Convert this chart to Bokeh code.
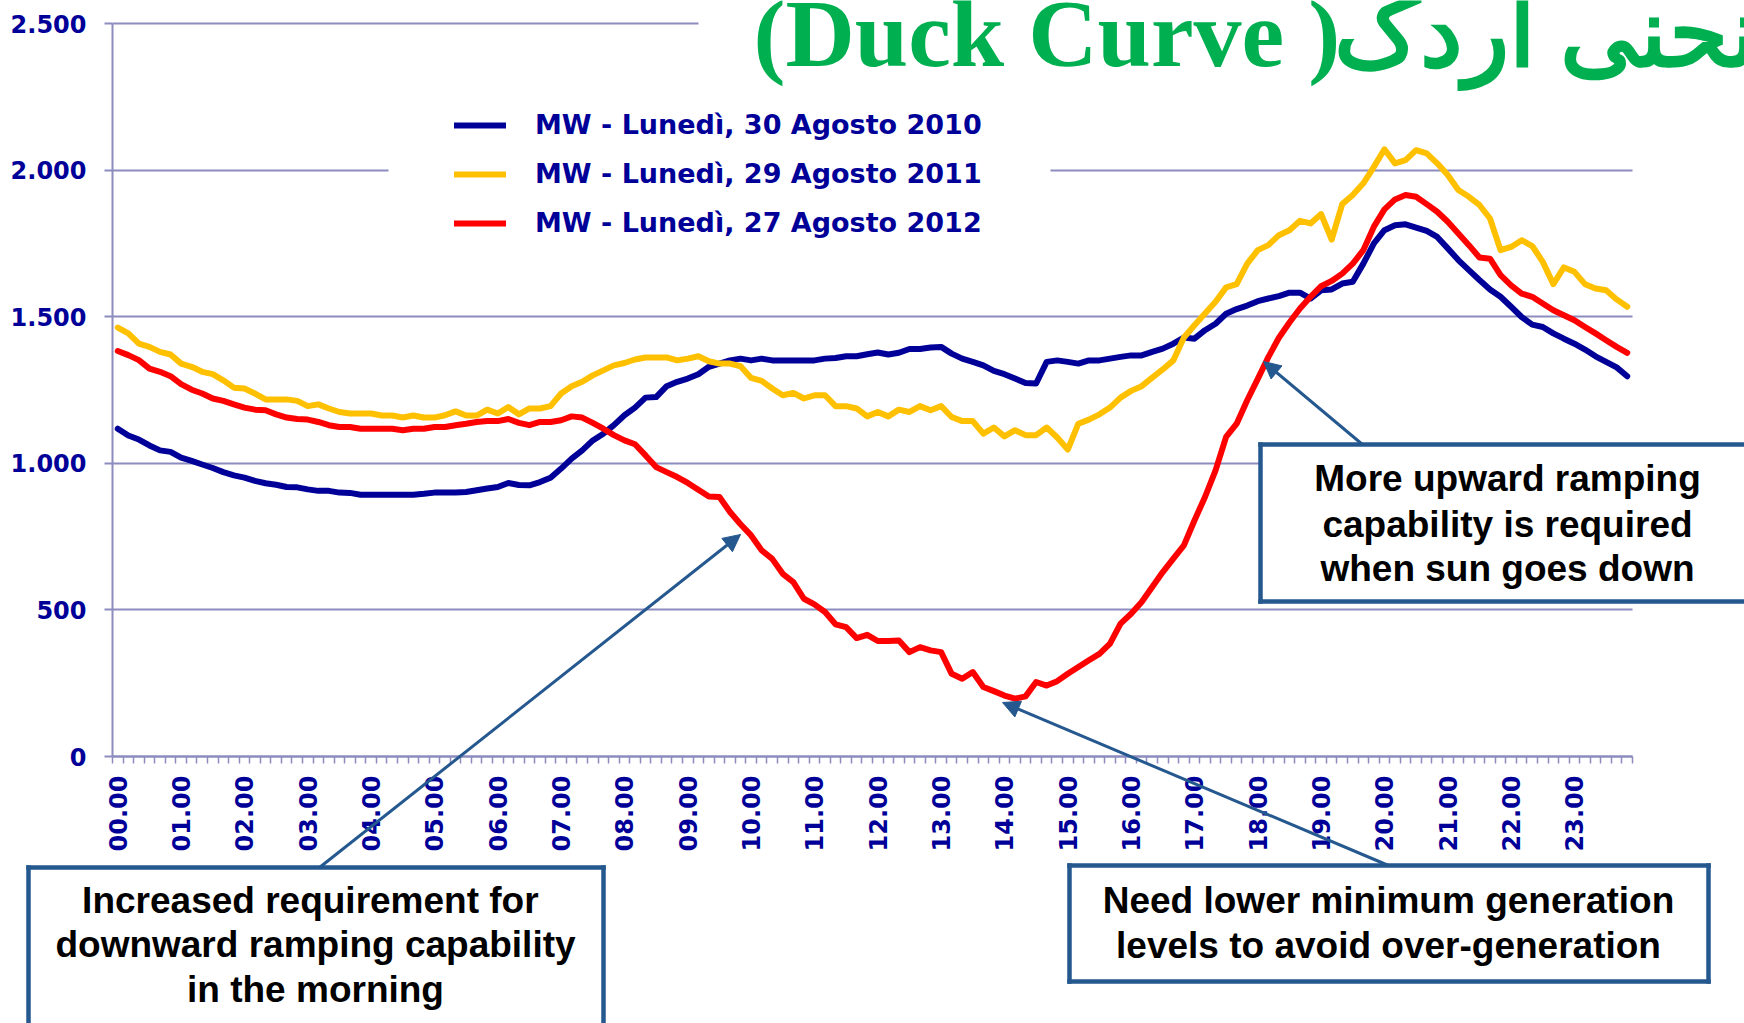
import math
from bokeh.plotting import figure
from bokeh.models import (Range1d, FixedTicker, BoxAnnotation, Label, Arrow,
                          NormalHead, Legend, LegendItem, ColumnDataSource)
from bokeh.embed import file_html
from bokeh.resources import INLINE

# ---------------- data (10-minute steps, 00.00 -> 23.50) ----------------
hour_labels = ["00.00", "01.00", "02.00", "03.00", "04.00", "05.00", "06.00", "07.00",
               "08.00", "09.00", "10.00", "11.00", "12.00", "13.00", "14.00", "15.00",
               "16.00", "17.00", "18.00", "19.00", "20.00", "21.00", "22.00", "23.00"]
steps_per_hour = 6

series_labels = ["MW - Lunedì, 30 Agosto 2010",
                 "MW - Lunedì, 29 Agosto 2011",
                 "MW - Lunedì, 27 Agosto 2012"]

mw_2010 = [1118, 1095, 1081, 1061, 1044, 1039, 1019, 1008, 996, 984,
           970, 959, 951, 940, 932, 927, 919, 918, 911, 906,
           906, 900, 899, 893, 893, 893, 893, 893, 893, 896,
           900, 900, 900, 902, 908, 914, 919, 933, 926, 925,
           936, 951, 982, 1016, 1044, 1078, 1101, 1130, 1164, 1190,
           1224, 1226, 1263, 1278, 1289, 1304, 1329, 1340, 1351, 1357,
           1351, 1357, 1351, 1351, 1351, 1351, 1351, 1357, 1359, 1365,
           1365, 1372, 1378, 1371, 1377, 1390, 1390, 1395, 1397, 1374,
           1357, 1346, 1334, 1315, 1304, 1289, 1274, 1272, 1346, 1351,
           1346, 1340, 1351, 1351, 1357, 1363, 1368, 1368, 1380, 1391,
           1408, 1429, 1425, 1454, 1476, 1510, 1526, 1538, 1553, 1562,
           1570, 1582, 1582, 1562, 1590, 1593, 1613, 1619, 1681, 1750,
           1795, 1812, 1815, 1804, 1793, 1772, 1733, 1693, 1659, 1625,
           1593, 1568, 1534, 1499, 1473, 1465, 1443, 1425, 1408, 1388,
           1365, 1346, 1327, 1297]

mw_2011 = [1463, 1443, 1408, 1397, 1380, 1371, 1340, 1329, 1312, 1304,
           1283, 1258, 1255, 1238, 1218, 1218, 1218, 1213, 1195, 1201,
           1187, 1175, 1170, 1170, 1170, 1163, 1163, 1156, 1163, 1156,
           1156, 1164, 1177, 1163, 1163, 1183, 1170, 1192, 1167, 1187,
           1187, 1195, 1238, 1263, 1278, 1300, 1317, 1334, 1342, 1354,
           1361, 1361, 1361, 1351, 1357, 1365, 1348, 1340, 1340, 1331,
           1291, 1281, 1255, 1232, 1240, 1221, 1232, 1232, 1195, 1195,
           1187, 1160, 1175, 1160, 1183, 1175, 1195, 1181, 1195, 1158,
           1144, 1144, 1101, 1122, 1092, 1113, 1096, 1096, 1122, 1088,
           1047, 1135, 1149, 1167, 1190, 1224, 1247, 1263, 1292, 1320,
           1351, 1429, 1471, 1511, 1551, 1600, 1611, 1681, 1727, 1744,
           1778, 1795, 1827, 1818, 1850, 1763, 1884, 1915, 1955, 2011,
           2071, 2023, 2034, 2068, 2057, 2023, 1983, 1932, 1909, 1881,
           1835, 1727, 1738, 1761, 1741, 1687, 1611, 1668, 1653, 1611,
           1596, 1590, 1559, 1534]

mw_2012 = [1383, 1369, 1352, 1323, 1312, 1297, 1270, 1251, 1238, 1221,
           1213, 1201, 1190, 1183, 1181, 1167, 1156, 1151, 1149, 1141,
           1130, 1124, 1124, 1118, 1118, 1118, 1118, 1113, 1118, 1118,
           1124, 1124, 1130, 1135, 1141, 1144, 1144, 1151, 1138, 1130,
           1141, 1141, 1147, 1160, 1156, 1138, 1118, 1096, 1078, 1065,
           1027, 987, 970, 953, 933, 910, 887, 885, 834, 792,
           754, 703, 674, 623, 595, 538, 519, 493, 451, 441,
           404, 415, 394, 394, 396, 356, 373, 362, 356, 282,
           265, 288, 237, 223, 208, 197, 205, 254, 242, 257,
           282, 305, 328, 350, 385, 453, 487, 527, 578, 629,
           675, 720, 805, 885, 976, 1090, 1135, 1215, 1288, 1362,
           1428, 1480, 1528, 1568, 1604, 1622, 1647, 1681, 1727, 1807,
           1866, 1900, 1915, 1909, 1884, 1858, 1824, 1784, 1744, 1702,
           1698, 1642, 1607, 1579, 1568, 1545, 1522, 1505, 1488, 1465,
           1443, 1420, 1397, 1377]

y_ticks = [0, 500, 1000, 1500, 2000, 2500]
y_tick_labels = ["0", "500", "1.000", "1.500", "2.000", "2.500"]

title_latin = "(Duck Curve )"
title_persian = "منحنی اردک"
note_morning = ["Increased requirement  for", "downward ramping capability", "in the morning"]
note_min_gen = ["Need lower minimum generation", "levels to avoid over-generation"]
note_evening = ["More upward ramping", "capability is required", "when sun goes down"]

# ---------------- styles ----------------
NAVY = "#000099"
YELLOW = "#FFC000"
RED = "#FF0000"
GRID = "#8c8cbf"
BOXC = "#24588e"
GREEN = "#00B050"

n = len(mw_2010)
W, H = 1744, 1023
# plotting area (pixels on the page)
AL, AT, AW, AH = 112, 23, 1520, 733
YMAX = 2500

def px2x(X):
    return (X - AL) / (AW / n) - 0.5

def px2y(Y):
    return YMAX - (Y - AT) / (AH / YMAX)

p = figure(width=W, height=H, output_backend="svg", toolbar_location=None,
           x_range=Range1d(px2x(0), px2x(W)), y_range=Range1d(px2y(H), px2y(0)))
p.min_border = 0
p.min_border_left = 0
p.min_border_right = 0
p.min_border_top = 0
p.min_border_bottom = 0
p.outline_line_color = None
p.background_fill_color = "white"
p.border_fill_color = "white"
p.xgrid.visible = False

xa = p.xaxis[0]
major = [h * steps_per_hour for h in range(len(hour_labels))]
xa.fixed_location = 0
xa.bounds = (-0.5, n - 0.5)
xa.ticker = FixedTicker(ticks=major, minor_ticks=[k - 0.5 for k in range(n + 1)])
xa.major_label_overrides = {m: lab for m, lab in zip(major, hour_labels)}
xa.major_label_orientation = math.pi / 2
xa.major_tick_line_color = None
xa.major_tick_out = 0
xa.major_tick_in = 0
xa.minor_tick_out = 7
xa.minor_tick_in = 0
xa.minor_tick_line_color = GRID
xa.minor_tick_line_width = 1.5
xa.axis_line_color = GRID
xa.axis_line_width = 2
xa.major_label_text_font = "DejaVu Sans"
xa.major_label_text_font_style = "bold"
xa.major_label_text_font_size = "24px"
xa.major_label_text_color = NAVY
xa.major_label_standoff = 12

ya = p.yaxis[0]
ya.fixed_location = -0.5
ya.bounds = (0, YMAX)
ya.ticker = FixedTicker(ticks=y_ticks, minor_ticks=[])
ya.major_label_overrides = {t: lab for t, lab in zip(y_ticks, y_tick_labels)}
ya.major_tick_out = 8
ya.major_tick_in = 0
ya.major_tick_line_color = GRID
ya.major_tick_line_width = 2
ya.minor_tick_line_color = None
ya.axis_line_color = GRID
ya.axis_line_width = 2
ya.major_label_text_font = "DejaVu Sans"
ya.major_label_text_font_style = "bold"
ya.major_label_text_font_size = "24px"
ya.major_label_text_color = NAVY
ya.major_label_standoff = 18

yg = p.ygrid[0]
yg.ticker = FixedTicker(ticks=y_ticks)
yg.grid_line_color = GRID
yg.grid_line_width = 2
try:
    yg.cross_bounds = (-0.5, n - 0.5)
except Exception:
    yg.visible = False
    p.segment(x0=[-0.5] * len(y_ticks), x1=[n - 0.5] * len(y_ticks), y0=y_ticks, y1=y_ticks,
              line_color=GRID, line_width=2)

src = ColumnDataSource(dict(x=list(range(n)), a=mw_2010, b=mw_2011, c=mw_2012))
rends = []
for col, colr in (("a", NAVY), ("b", YELLOW), ("c", RED)):
    rends.append(p.line("x", col, source=src, line_color=colr, line_width=6,
                        line_join="round", line_cap="round"))

# white areas behind title and legend (hide gridlines there)
p.add_layout(BoxAnnotation(left=px2x(698), right=px2x(W + 40), top=px2y(-30), bottom=px2y(95),
                           fill_color="white", fill_alpha=1, line_color=None))
p.add_layout(BoxAnnotation(left=px2x(388), right=px2x(1050), top=px2y(100), bottom=px2y(250),
                           fill_color="white", fill_alpha=1, line_color=None))

legend = Legend(items=[LegendItem(label=lab, renderers=[r]) for lab, r in zip(series_labels, rends)],
                location=(454, H - 238), orientation="vertical")
legend.background_fill_alpha = 0
legend.border_line_color = None
legend.glyph_width = 52
legend.glyph_height = 30
legend.label_height = 30
legend.label_standoff = 29
legend.spacing = 18
legend.padding = 0
legend.margin = 0
legend.label_text_font = "DejaVu Sans"
legend.label_text_font_style = "bold"
legend.label_text_font_size = "27px"
legend.label_text_color = NAVY
p.add_layout(legend)

# annotation boxes: white fill + border strips on the visible sides
BW = 4.5
def add_box(l, r, t, b, sides):
    p.add_layout(BoxAnnotation(left=px2x(l), right=px2x(r), top=px2y(t), bottom=px2y(b),
                               fill_color="white", fill_alpha=1, line_color=None))
    h = BW / 2
    strips = {"top": (l - h, r + h, t - h, t + h), "bottom": (l - h, r + h, b - h, b + h),
              "left": (l - h, l + h, t - h, b + h), "right": (r - h, r + h, t - h, b + h)}
    for s in sides:
        sl, sr, st, sb = strips[s]
        p.add_layout(BoxAnnotation(left=px2x(sl), right=px2x(sr), top=px2y(st), bottom=px2y(sb),
                                   fill_color=BOXC, fill_alpha=1, line_color=None))

add_box(28, 603, 867, H + 40, ["top", "left", "right"])
add_box(1069, 1708, 865, 981, ["top", "left", "right", "bottom"])
add_box(1260, W + 40, 444, 601, ["top", "left", "bottom"])

for (x0, y0, x1, y1) in ((319, 867, 740, 534), (1388, 865, 1002, 702), (1362, 444, 1263, 361)):
    p.add_layout(Arrow(end=NormalHead(size=17, fill_color=BOXC, line_color=BOXC),
                       x_start=px2x(x0), y_start=px2y(y0), x_end=px2x(x1), y_end=px2y(y1),
                       line_color=BOXC, line_width=3))

def add_lines(lines, cx, ys):
    for txt, yy in zip(lines, ys):
        p.add_layout(Label(x=px2x(cx), y=px2y(yy), text=txt, text_align="center",
                           text_baseline="middle", text_font="Liberation Sans",
                           text_font_style="bold", text_font_size="37px", text_color="black"))

add_lines(note_morning, 315, [900, 944, 989])
add_lines(note_min_gen, 1388, [900, 945])
add_lines(note_evening, 1507, [478, 524, 568])

p.add_layout(Label(x=px2x(753), y=px2y(33), text=title_latin, text_align="left",
                   text_baseline="middle", text_font="Liberation Serif",
                   text_font_style="bold", text_font_size="96px", text_color=GREEN))
p.add_layout(Label(x=px2x(1333), y=px2y(33), text=title_persian, text_align="left",
                   text_baseline="middle", text_font="Liberation Serif",
                   text_font_style="bold", text_font_size="96px", text_color=GREEN))

open("out.html", "w").write(file_html(p, INLINE))
